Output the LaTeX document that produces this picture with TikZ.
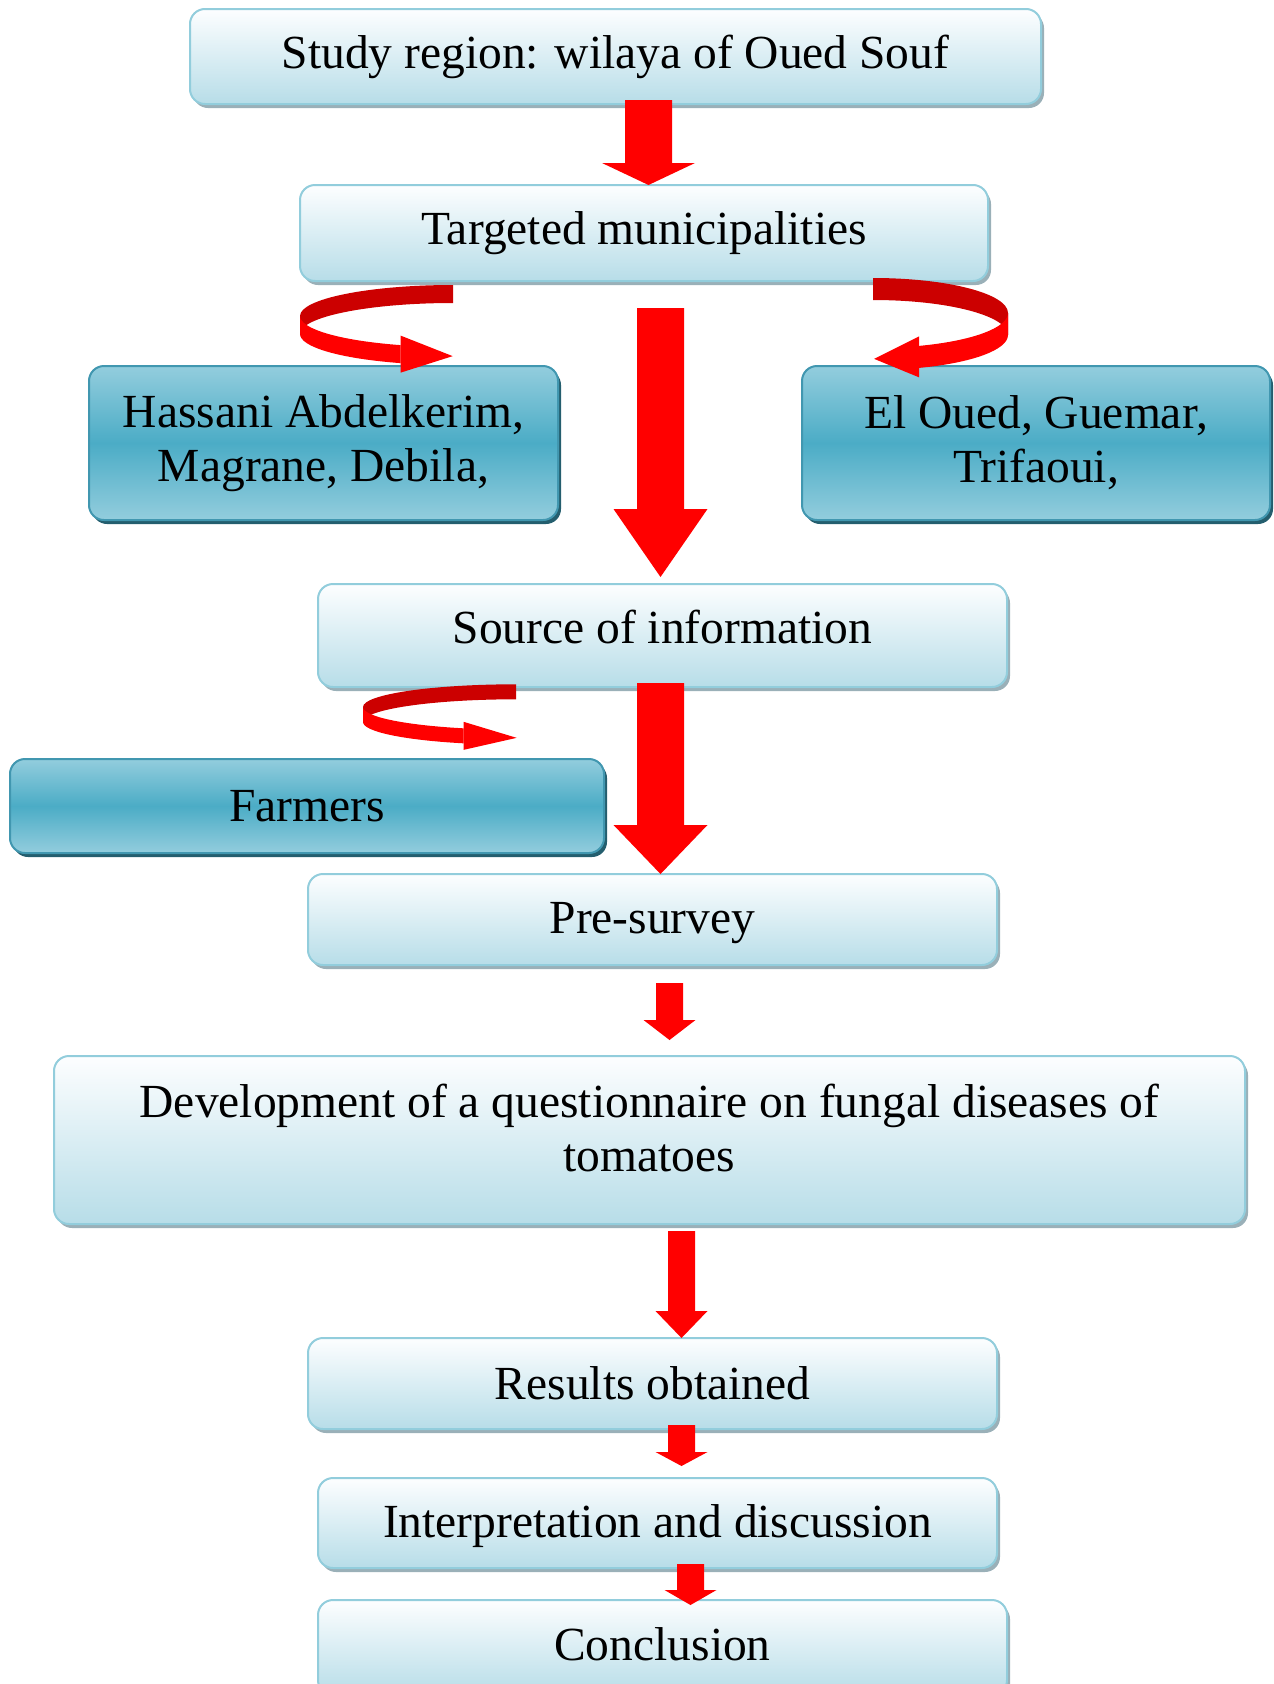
\documentclass[tikz,border=0pt]{standalone}
\usepackage{fontspec}
\setmainfont{Liberation Serif}
\usetikzlibrary{shadows,calc}
\definecolor{lightTop}{HTML}{FDFEFF}
\definecolor{lightBot}{HTML}{B7DDE8}
\definecolor{lightborder}{HTML}{92CDDC}
\definecolor{lightshadow}{HTML}{9AB0B8}
\definecolor{darkTop}{HTML}{93CDDD}
\definecolor{darkMid}{HTML}{4BACC6}
\definecolor{darkborder}{HTML}{4197B0}
\definecolor{darkshadow}{HTML}{245E6E}
\definecolor{arrowred}{HTML}{FF0000}
\definecolor{ribbondark}{HTML}{CC0000}
\tikzset{
  boxbase/.style={rounded corners=15pt, line width=2pt, inner sep=0pt, outer sep=0pt,
    align=center, font=\fontsize{47.5}{54}\selectfont},
  lightbox/.style={boxbase, draw=lightborder, top color=lightTop, bottom color=lightBot,
    drop shadow={shadow xshift=3pt, shadow yshift=-4pt, fill=lightshadow, opacity=1}},
  darkbox/.style={boxbase, draw=darkborder, top color=darkTop, bottom color=darkTop,
    middle color=darkMid,
    drop shadow={shadow xshift=3pt, shadow yshift=-4pt, fill=darkshadow, opacity=1}},
  bw/.style 2 args={minimum width=#1pt, minimum height=#2pt}
}
% fat block arrow: from, to, xc, half shaft, half head, head length, shaft top offset, tip offset
\newcommand\fatarrow[8]{%
  \path let \p1=(#1.south), \p2=(#2.north) in
    coordinate (fa-top) at ({#3pt}, {\y1+(#7pt)})
    coordinate (fa-tip) at ({#3pt}, {\y2+(#8pt)});
  \fill[arrowred] let \p1=(fa-top), \p2=(fa-tip) in
    ({\x1-#4pt}, {\y1}) -- ({\x1+#4pt}, {\y1})
    -- ({\x1+#4pt}, {\y2+#6pt}) -- ({\x1+#5pt}, {\y2+#6pt})
    -- (fa-tip)
    -- ({\x1-#5pt}, {\y2+#6pt}) -- ({\x1-#4pt}, {\y2+#6pt}) -- cycle;}
% curled ribbon arrow: cx, cy, rx, ry, h, dir, head half width, head length
\newcommand\ribbon[8]{%
  \begin{scope}[shift={(#1pt,-#2pt)}, xscale=#6]
    \fill[ribbondark] (0pt,#4pt) arc[start angle=90,end angle=180,x radius=#3pt,y radius=#4pt]
      -- ++(0pt,-#5pt) arc[start angle=180,end angle=90,x radius=#3pt,y radius=#4pt] -- cycle;
    \fill[arrowred] (-#3pt,0pt) arc[start angle=180,end angle=250,x radius=#3pt,y radius=#4pt]
      -- ++(0pt,-#5pt) arc[start angle=250,end angle=180,x radius=#3pt,y radius=#4pt] -- cycle;
    \fill[arrowred] ({#3*cos(250)*1pt}, {(#4*sin(250)-#5/2+#7)*1pt})
      -- ++({#8pt}, {-(#7)*1pt-2pt})
      -- ({#3*cos(250)*1pt}, {(#4*sin(250)-#5/2-#7)*1pt}) -- cycle;
  \end{scope}}
\begin{document}
\begin{tikzpicture}[x=1pt,y=1pt]
\useasboundingbox (0,0) rectangle (1274,-1684);
\clip (0,0) rectangle (1274,-1684);

\node[lightbox, bw={851}{95}] (study) at (615.5,-56.5) {Study region: wilaya of Oued Souf};
\node[lightbox, bw={688}{96}] (targ) at (644,-233) {Targeted municipalities};
\node[darkbox, bw={469}{154}] (hass) at (323.5,-443) {Hassani Abdelkerim,\\Magrane, Debila,};
\node[darkbox, bw={468}{154}] (eloued) at (1036,-443) {El Oued, Guemar,\\Trifaoui,};
\node[lightbox, bw={689}{103}, text depth=18pt] (source) at (662.5,-635.5) {Source of information};
\node[darkbox, bw={594}{94}] (farmers) at (307,-806) {Farmers};
\node[lightbox, bw={689}{91}, text height=37.5pt] (pre) at (652.5,-919.5) {Pre-survey};
\node[lightbox, bw={1191}{168}, text depth=24pt] (dev) at (649.5,-1140) {Development of a questionnaire on fungal diseases of\\tomatoes};
\node[lightbox, bw={689}{91}] (results) at (652.5,-1383.5) {Results obtained};
\node[lightbox, bw={679}{90}, text height=39pt] (interp) at (657.5,-1523) {Interpretation and discussion};
\node[lightbox, bw={689}{95}, text depth=8pt] (concl) at (662.5,-1647.5) {Conclusion};

\ribbon{453}{316}{153}{31}{18}{1}{18.5}{52}
\ribbon{873}{313}{135}{35}{22}{-1}{20.5}{45}
\ribbon{516}{707}{153}{22.7}{15}{1}{14}{53}

\fatarrow{study}{targ}{648.5}{23.5}{46.5}{22}{4}{0}
\fatarrow{targ}{source}{660.5}{23.5}{47}{68}{-27}{7}
\fatarrow{source}{pre}{660.5}{23.5}{47}{49}{4}{0}
\fatarrow{pre}{dev}{669.5}{13.5}{26}{20}{-18}{16}
\fatarrow{dev}{results}{681.5}{13.5}{26}{27}{-7}{0}
\fatarrow{results}{interp}{681.5}{13.5}{26}{14}{4}{12}
\fatarrow{interp}{concl}{690.5}{13.5}{26}{15}{4}{-5}
\end{tikzpicture}
\end{document}
